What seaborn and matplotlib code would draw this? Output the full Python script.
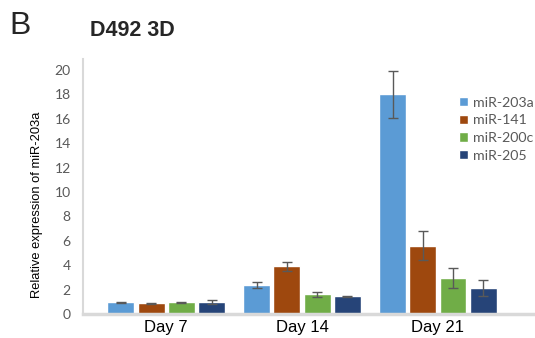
import matplotlib
matplotlib.use("Agg")
import matplotlib.pyplot as plt
import seaborn as sns
import pandas as pd

# Expression data (mean and error) per time point and miRNA
days = ["Day 7", "Day 14", "Day 21"]
mirnas = ["miR-203a", "miR-141", "miR-200c", "miR-205"]
mir203a = [0.95, 2.35, 18.0]
mir141 = [0.87, 3.9, 5.6]
mir200c = [0.97, 1.6, 2.95]
mir205 = [0.97, 1.45, 2.15]
err203a = [0.07, 0.25, 1.9]
err141 = [0.07, 0.38, 1.2]
err200c = [0.03, 0.17, 0.8]
err205 = [0.15, 0.05, 0.65]

colors = ["#5B9BD5", "#9E480E", "#70AD47", "#264478"]

means = [mir203a, mir141, mir200c, mir205]
errs = [err203a, err141, err200c, err205]
df = pd.DataFrame(
    [(d, m, means[j][i]) for j, m in enumerate(mirnas) for i, d in enumerate(days)],
    columns=["day", "mirna", "value"],
)

sns.set_style("white")
plt.rcParams["font.family"] = ["Liberation Sans", "DejaVu Sans"]

fig = plt.figure(figsize=(5.35, 3.38), dpi=100)
ax = fig.add_axes([83.3 / 535, 1 - 314 / 338, (533 - 83.3) / 535, (314 - 59) / 338])

sns.barplot(data=df, x="day", y="value", hue="mirna", order=days,
            hue_order=mirnas, palette=colors, width=0.89, gap=0.11,
            errorbar=None, saturation=1, ax=ax, zorder=2)

# error bars on top of each bar, one container per miRNA
for cont, e in zip(ax.containers, errs):
    xs = [p.get_x() + p.get_width() / 2 for p in cont.patches]
    ys = [p.get_height() for p in cont.patches]
    ax.errorbar(xs, ys, yerr=e, fmt="none", ecolor="#595959",
                elinewidth=1, capsize=3.5, capthick=1, zorder=3)

ax.set_xlim(-0.61, 2.70)
ax.set_ylim(0, 20.9)
ax.set_yticks(range(0, 21, 2))
ax.tick_params(axis="y", length=0, pad=9, labelsize=10, labelcolor="#595959")
for t in ax.get_yticklabels():
    t.set_fontfamily(["Lato", "DejaVu Sans"])
ax.tick_params(axis="x", length=0, pad=4, labelsize=12, labelcolor="black")
ax.set_xlabel("")
ax.set_ylabel("Relative expression of miR-203a", fontsize=9.3, color="black")
ax.yaxis.set_label_coords(-0.09, 0.427)

for s in ("top", "right"):
    ax.spines[s].set_visible(False)
ax.spines["left"].set_color("#d9d9d9")
ax.spines["left"].set_linewidth(1.5)
ax.spines["bottom"].set_color("#d9d9d9")
ax.spines["bottom"].set_linewidth(2.5)

leg = ax.legend(loc="upper left", bbox_to_anchor=(453 / 535, 1 - 91 / 338),
                bbox_transform=fig.transFigure, frameon=False,
                handlelength=0.65, handleheight=0.65, handletextpad=0.35,
                labelspacing=0.4, borderaxespad=0,
                prop={"family": ["Lato", "DejaVu Sans"], "size": 10.2})
for t in leg.get_texts():
    t.set_color("#595959")

fig.text(9 / 535, 1 - 34 / 338, "B", fontsize=23, va="baseline", ha="left")
fig.text(90 / 535, 1 - 35.7 / 338, "D492 3D", fontsize=15.5, fontweight="bold",
         va="baseline", ha="left")

fig.savefig("out.png", dpi=100)
